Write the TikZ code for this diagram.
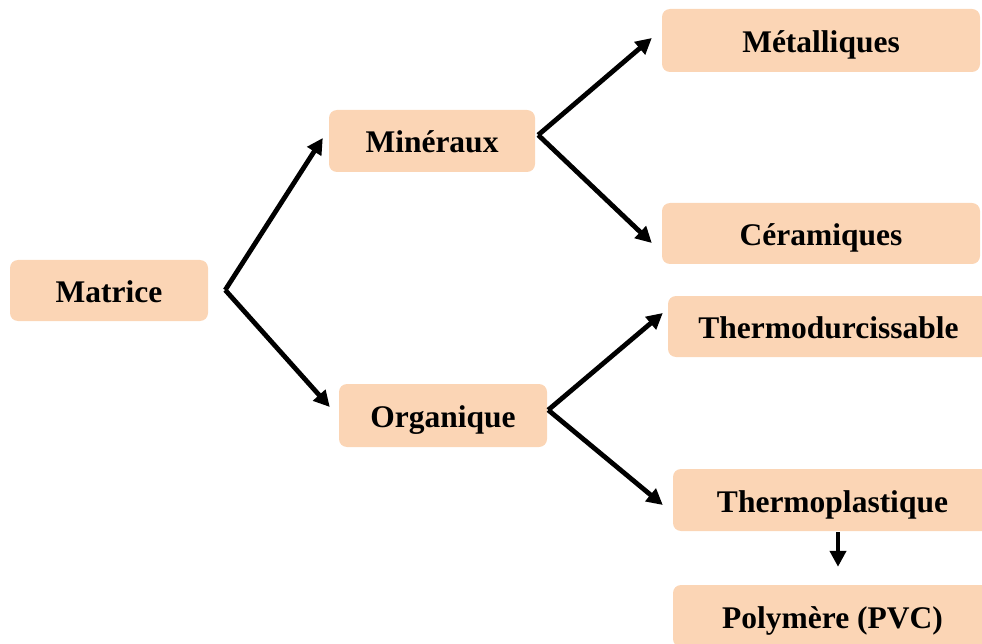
\documentclass[tikz,border=0pt]{standalone}
\usepackage{fontspec}
\setmainfont{Liberation Serif}
\usetikzlibrary{arrows.meta}
\definecolor{peach}{HTML}{FBD5B5}

\begin{document}
\begin{tikzpicture}[x=1pt, y=-1pt,
    box/.style={fill=peach, rounded corners=8pt, inner sep=0pt,
        text height=24pt, text depth=0pt,
        font=\fontsize{31.5}{36}\selectfont\bfseries},
    branch/.style={line width=4.8pt, -{Triangle[length=16pt,width=16pt]}}]
    \useasboundingbox (0,0) rectangle (982,644);
    \clip (0,0) rectangle (982,644);

    % Draw nodes
    \node[box, minimum width=198pt, minimum height=61pt] (matrice) at (109,290.5) {Matrice};
    \node[box, minimum width=206pt, minimum height=62pt] (mineraux) at (432,141) {Minéraux};
    \node[box, minimum width=208pt, minimum height=63pt] (organique) at (443,415.5) {Organique};
    \node[box, minimum width=318pt, minimum height=63pt] (metalliques) at (821,40.5) {Métalliques};
    \node[box, minimum width=318pt, minimum height=61pt] (ceramiques) at (821,233.5) {Céramiques};
    \node[box, minimum width=321pt, minimum height=61pt] (thermodur) at (828.5,326.5) {Thermodurcissable};
    \node[box, minimum width=319pt, minimum height=62pt] (thermoplast) at (832.5,500) {Thermoplastique};
    \node[box, minimum width=319pt, minimum height=62pt] (polymere) at (832.5,616) {Polymère (PVC)};

    % Fork points
    \coordinate (fork1) at ([shift={(17,-0.5)}]matrice.east);
    \coordinate (fork2) at ([shift={(3,-6)}]mineraux.east);
    \coordinate (fork3) at ([shift={(1,-5.5)}]organique.east);

    % Draw connections
    \draw[branch] (fork1) -- ([shift={(-6,-3)}]mineraux.west);
    \draw[branch] (fork1) -- ([shift={(-9,-8.5)}]organique.west);
    \draw[branch] (fork2) -- ([shift={(-10,-2.5)}]metalliques.west);
    \draw[branch] (fork2) -- ([shift={(-10,9.5)}]ceramiques.west);
    \draw[branch] (fork3) -- ([shift={(-5,-13.5)}]thermodur.west);
    \draw[branch] (fork3) -- ([shift={(-10,5)}]thermoplast.west);
    \draw[branch] ([shift={(5.5,1)}]thermoplast.south) -- ([shift={(5.5,-18)}]polymere.north);
\end{tikzpicture}
\end{document}
